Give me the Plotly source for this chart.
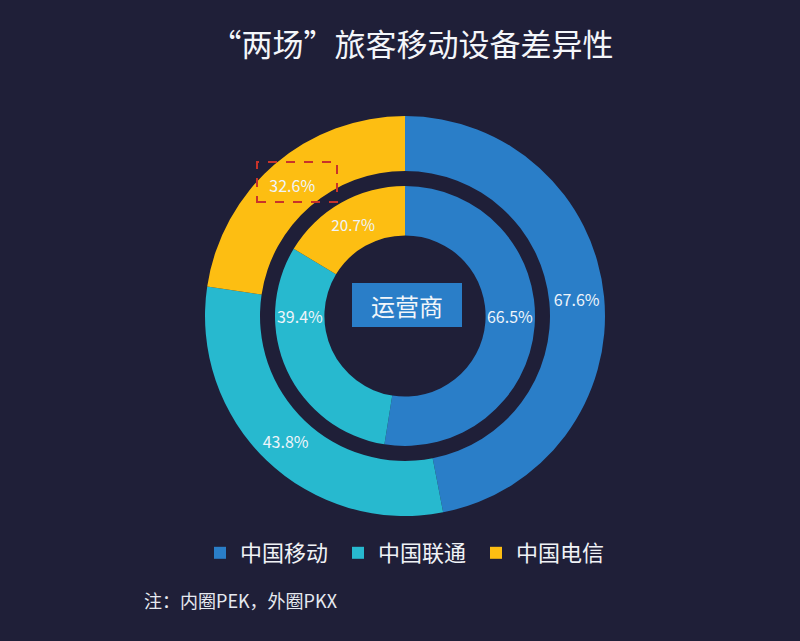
import plotly.graph_objects as go

# carriers and shares (outer ring = PKX, inner ring = PEK)
carriers = ["中国移动", "中国联通", "中国电信"]
outer_vals = [67.6, 43.8, 32.6]
inner_vals = [66.5, 39.4, 20.7]
outer_text = ["67.6%", "43.8%", "32.6%"]
inner_text = ["66.5%", "39.4%", "20.7%"]

colors = ["#2a7ec8", "#27b9cf", "#fdbe12"]
bg = "#1f1f38"
font_cn = "Noto Sans CJK SC"

W, H = 800, 641
cx, cy = 405, 316  # centre in px (from top)


def dom(r):
    return dict(x=[(cx - r) / W, (cx + r) / W],
                y=[(H - cy - r) / H, (H - cy + r) / H])


fig = go.Figure()

fig.add_trace(go.Pie(
    labels=carriers, values=outer_vals, text=outer_text,
    textinfo="text", textposition="inside", insidetextorientation="horizontal",
    textfont=dict(size=16, color="#eef4fa", family=font_cn),
    marker=dict(colors=colors, line=dict(width=0)),
    hole=0.725, sort=False, direction="clockwise", rotation=0,
    domain=dom(200), hoverinfo="skip",
))

fig.add_trace(go.Pie(
    labels=carriers, values=inner_vals, text=inner_text,
    textinfo="text", textposition="inside", insidetextorientation="horizontal",
    textfont=dict(size=16, color="#eef4fa", family=font_cn),
    marker=dict(colors=colors, line=dict(width=0)),
    hole=0.62, sort=False, direction="clockwise", rotation=0,
    domain=dom(130), hoverinfo="skip", showlegend=False,
))

# centre label box
fig.add_shape(type="rect", xref="paper", yref="paper",
              x0=352 / W, x1=462 / W, y0=(H - 327) / H, y1=(H - 283) / H,
              fillcolor="#2a7ec8", line=dict(width=0), layer="above")
fig.add_annotation(x=407 / W, y=(H - 305) / H, xref="paper", yref="paper",
                   text="运营商", showarrow=False,
                   font=dict(size=24, color="#f2f6fa", family=font_cn))

# red dashed highlight around 32.6%
fig.add_shape(type="rect", xref="paper", yref="paper",
              x0=257 / W, x1=337 / W, y0=(H - 202) / H, y1=(H - 162) / H,
              line=dict(color="#c8332a", width=2, dash="dash"), layer="above")

# footnote
fig.add_annotation(x=142 / W, y=(H - 600) / H, xref="paper", yref="paper",
                   xanchor="left", yanchor="middle",
                   text="注：内圈PEK，外圈PKX", showarrow=False,
                   font=dict(size=18, color="#e6e9f0", family=font_cn))

fig.update_layout(
    width=W, height=H,
    paper_bgcolor=bg, plot_bgcolor=bg,
    margin=dict(l=0, r=0, t=0, b=0),
    title=dict(text="“两场”旅客移动设备差异性", x=412 / W, xanchor="center",
               y=1 - 45 / H, yanchor="middle",
               font=dict(size=31, color="#f4f6fa", family=font_cn)),
    legend=dict(orientation="h", x=200 / W, y=(H - 553) / H,
                xanchor="left", yanchor="middle",
                font=dict(size=22, color="#f0f2f6", family=font_cn),
                bgcolor="rgba(0,0,0,0)", entrywidth=93),
)

# drop the page's default body margin so the figure fills the window
fig.write_html("out.html", config={"displayModeBar": False},
               post_script="document.body.style.margin='0';")
